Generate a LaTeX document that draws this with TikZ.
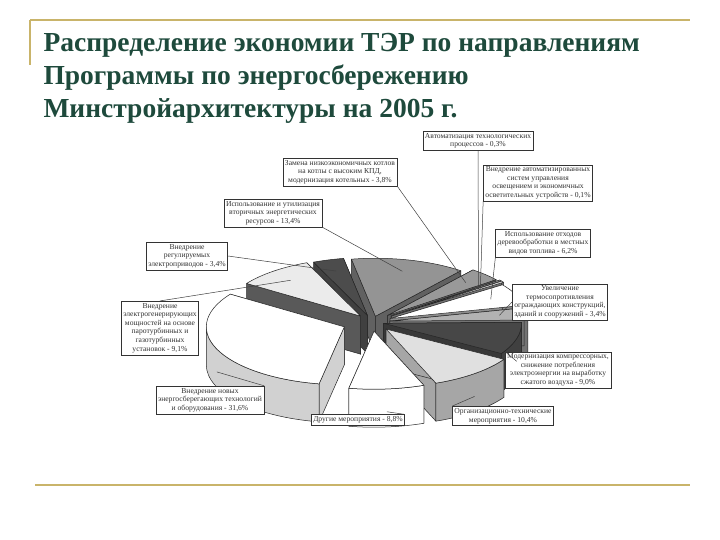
\documentclass[tikz,border=0pt]{standalone}
\usepackage{fontspec}
\setmainfont{Liberation Serif}
\begin{document}
\begin{tikzpicture}[x=1pt,y=1pt,
  lab/.style={draw=black!80,line width=0.5pt,fill=white,align=center,font=\fontsize{7.6}{8.6}\selectfont,text=black!80,inner sep=2pt},
  lead/.style={draw=black!75,line width=0.5pt},
  deco/.style={draw=gold,line width=1.4pt},
  ttlf/.style={anchor=west,text=ttl,font=\fontsize{27.5}{30}\selectfont\bfseries},
  pie/.style={draw=black!85,line width=0.5pt,line join=round}]
\definecolor{gold}{HTML}{C9B46A}
\definecolor{ttl}{HTML}{1E4A3C}
\useasboundingbox (0,0) rectangle (720,540);
\fill[white] (0,0) rectangle (720,540);
% decoration
\draw[deco] (30,520) -- (30,475);
\draw[deco] (30,520) -- (690,520);
\draw[deco] (35,55) -- (690,55);
% title
\node[ttlf] (t1) at (40,495) {Распределение экономии ТЭР по направлениям};
\node[ttlf] (t2) at (40,462) {Программы по энергосбережению};
\node[ttlf] (t3) at (40,429) {Минстройархитектуры на 2005 г.};
% pie
\def\cx{372}\def\cy{218}\def\ra{138}\def\rb{58}\def\dep{38}
\newcommand\psl[7]{%
 \pgfmathsetmacro\mid{(#1+#2)/2}%
 \pgfmathsetmacro\ox{#3*cos(\mid)}%
 \pgfmathsetmacro\oy{#3*sin(\mid)*\rb/\ra}%
 \pgfmathsetmacro\fs{max(#1,180)}%
 \pgfmathsetmacro\fe{min(#2,360)}%
 \begin{scope}[shift={({\cx+\ox},{\cy+\oy})}]
  \filldraw[pie,fill=#5] (0,0) -- ({\ra*cos(#1)},{\rb*sin(#1)}) -- ++(0,-\dep) -- (0,-\dep) -- cycle;
  \filldraw[pie,fill=#5] (0,0) -- ({\ra*cos(#2)},{\rb*sin(#2)}) -- ++(0,-\dep) -- (0,-\dep) -- cycle;
  \ifdim\fs pt<\fe pt
   \filldraw[pie,fill=#6] ({\ra*cos(\fs)},{\rb*sin(\fs)}) arc[start angle=\fs,end angle=\fe,x radius=\ra,y radius=\rb] -- ++(0,-\dep) arc[start angle=\fe,end angle=\fs,x radius=\ra,y radius=\rb] -- cycle;
  \fi
  \filldraw[pie,fill=#4] (0,0) -- ({\ra*cos(#1)},{\rb*sin(#1)}) arc[start angle=#1,end angle=#2,x radius=\ra,y radius=\rb] -- cycle;
  \coordinate (#7) at ({0.8*\ra*cos(\mid)},{0.8*\rb*sin(\mid)});
  \coordinate (#7f) at ({\ra*cos(\mid)},{\rb*sin(\mid)-0.6*\dep});
 \end{scope}}
\psl{411.76}{460}{14}{black!42}{black!62}{black!55}{sSec}
\psl{100}{112.96}{16}{black!70}{black!75}{black!70}{sDrv}
\psl{112.96}{145.72}{18}{black!8}{black!65}{black!65}{sCog}
\psl{398.08}{411.76}{22}{black!40}{black!62}{black!55}{sBoil}
\psl{397}{398.08}{24}{black!30}{black!55}{black!55}{sAut}
\psl{395.56}{397}{24}{black!15}{black!55}{black!55}{sLig}
\psl{373.24}{395.56}{20}{white}{black!45}{black!45}{sWst}
\psl{361}{373.24}{18}{black!30}{black!55}{black!55}{sEnv}
\psl{328.6}{361}{12}{black!72}{black!78}{black!75}{sCmp}
\psl{145.72}{259.48}{30}{white}{black!18}{black!18}{sNew}
\psl{291.16}{328.6}{22}{black!12}{black!35}{black!35}{sOrg}
\psl{259.48}{291.16}{22}{white}{white}{white}{sOth}
% labels
\node[lab] (lAut) at (478,399) {Автоматизация технологических\\процессов - 0,3\%};
\node[lab] (lBoil) at (340,368) {Замена низкоэкономичных котлов\\на котлы с высоким КПД,\\модернизация котельных - 3,8\%};
\node[lab] (lLig) at (538,357) {Внедрение автоматизированных\\систем управления\\освещением и экономичных\\осветительных устройств - 0,1\%};
\node[lab] (lSec) at (273,327) {Использование и утилизация\\вторичных энергетических\\ресурсов - 13,4\%};
\node[lab] (lWst) at (543,297) {Использование отходов\\деревообработки в местных\\видов топлива - 6,2\%};
\node[lab] (lDrv) at (187,284) {Внедрение\\регулируемых\\электроприводов - 3,4\%};
\node[lab] (lEnv) at (560,238) {Увеличение\\термосопротивления\\ограждающих конструкций,\\зданий и сооружений - 3,4\%};
\node[lab] (lCog) at (160,212) {Внедрение\\электрогенерирующих\\мощностей на основе\\паротурбинных и\\газотурбинных\\установок - 9,1\%};
\node[lab] (lCmp) at (558,170) {Модернизация компрессорных,\\снижение потребления\\электроэнергии на выработку\\сжатого воздуха - 9,0\%};
\node[lab] (lNew) at (210,140) {Внедрение новых\\энергосберегающих технологий\\и оборудования - 31,6\%};
\node[lab] (lOth) at (358,120) {Другие мероприятия - 8,8\%};
\node[lab] (lOrg) at (503,124) {Организационно-технические\\мероприятия - 10,4\%};
% leaders
\draw[lead] (lAut.south) -- (sAut);
\draw[lead] (lBoil.south east) -- (sBoil);
\draw[lead] (lLig.south west) -- (sLig);
\draw[lead] (lSec.south east) -- (sSec);
\draw[lead] (lWst.south west) -- (sWst);
\draw[lead] (lDrv.east) -- (sDrv);
\draw[lead] (lEnv.west) -- (sEnv);
\draw[lead] (lCog.north) -- (sCog);
\draw[lead] (lCmp.north west) -- (sCmpf);
\draw[lead] (lNew.north east) -- (sNewf);
\draw[lead] (lOth.north east) -- (sOthf);
\draw[lead] (lOrg.north west) -- (sOrgf);
\end{tikzpicture}
\end{document}
